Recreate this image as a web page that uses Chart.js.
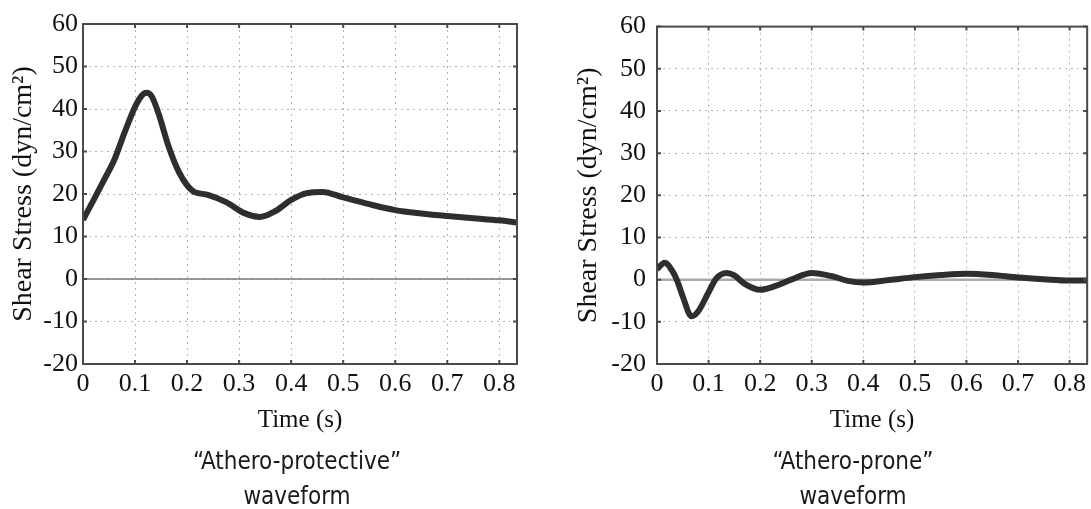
<!DOCTYPE html>
<html>
<head>
<meta charset="utf-8">
<script src="https://cdn.jsdelivr.net/npm/chart.js"></script>
<style>
  html, body { margin: 0; padding: 0; background: #fff; overflow: hidden; }
  .panel { position: absolute; top: 0; }
  .caption {
    position: absolute;
    width: 300px;
    text-align: center;
    font-family: "Liberation Sans Narrow", "DejaVu Sans Condensed", "Liberation Sans", sans-serif;
    font-size: 24px;
    color: #1a1a1a;
    line-height: 35px;
  }
</style>
</head>
<body>

<div class="panel" style="left:0px"><canvas id="leftChart" width="530" height="509"></canvas></div>
<div class="panel" style="left:560px"><canvas id="rightChart" width="531" height="509"></canvas></div>

<div class="caption" style="left:147px; top:444px">“Athero-protective”<br>waveform</div>
<div class="caption" style="left:703px; top:444px">“Athero-prone”<br>waveform</div>

<script>
// ─────────────────────────────────────────────
// DATA
// ─────────────────────────────────────────────
const protectiveTime   = [0, 0.02, 0.04, 0.06, 0.08, 0.1, 0.112, 0.122, 0.132, 0.145, 0.165, 0.185, 0.21, 0.24, 0.275, 0.31, 0.34, 0.37, 0.4, 0.43, 0.46, 0.5, 0.55, 0.6, 0.65, 0.7, 0.75, 0.8, 0.834];
const protectiveStress = [13.9, 18.5, 23.2, 28, 34.5, 40.5, 43, 43.8, 43, 39, 31, 25, 20.8, 19.8, 18.1, 15.5, 14.6, 16.0, 18.6, 20.2, 20.5, 19.2, 17.6, 16.2, 15.4, 14.8, 14.3, 13.8, 13.3];

const proneTime   = [0, 0.015, 0.03, 0.04, 0.05, 0.067, 0.08, 0.1, 0.115, 0.135, 0.15, 0.17, 0.2, 0.23, 0.26, 0.3, 0.34, 0.37, 0.4, 0.45, 0.5, 0.55, 0.6, 0.65, 0.7, 0.75, 0.8, 0.834];
const proneStress = [2.5, 4, 2, -0.5, -4, -8.7, -7.5, -3, 0.3, 1.6, 1, -1, -2.4, -1.5, 0, 1.6, 0.8, -0.3, -0.7, -0.1, 0.6, 1.1, 1.4, 1.1, 0.5, 0.1, -0.2, -0.2];

const xTickValues = [0, 0.1, 0.2, 0.3, 0.4, 0.5, 0.6, 0.7, 0.8];
const yTickValues = [-20, -10, 0, 10, 20, 30, 40, 50, 60];
const xMax = 0.834;

const yTitle = 'Shear Stress (dyn/cm²)';
const xTitle = 'Time (s)';

// ─────────────────────────────────────────────
// FRAME + ZERO LINE (MATLAB style box)
// ─────────────────────────────────────────────
const boxPlugin = {
  id: 'box',
  beforeDatasetsDraw(chart, args, opts) {
    const { ctx, chartArea: a, scales } = chart;
    const y0 = scales.y.getPixelForValue(0);
    ctx.save();
    ctx.strokeStyle = opts.zeroColor;
    ctx.lineWidth = opts.zeroWidth;
    ctx.beginPath();
    ctx.moveTo(a.left, y0);
    ctx.lineTo(a.right, y0);
    ctx.stroke();
    ctx.restore();
  },
  afterDraw(chart) {
    const { ctx, chartArea: a, scales } = chart;
    ctx.save();
    ctx.strokeStyle = '#4a4a4a';
    ctx.lineWidth = 2;
    ctx.beginPath();
    xTickValues.forEach(v => {
      const px = scales.x.getPixelForValue(v);
      ctx.moveTo(px, a.bottom); ctx.lineTo(px, a.bottom - 4);
      ctx.moveTo(px, a.top); ctx.lineTo(px, a.top + 4);
    });
    yTickValues.forEach(v => {
      const py = scales.y.getPixelForValue(v);
      ctx.moveTo(a.left, py); ctx.lineTo(a.left + 4, py);
      ctx.moveTo(a.right, py); ctx.lineTo(a.right - 4, py);
    });
    ctx.stroke();
    ctx.strokeRect(a.left, a.top, a.right - a.left, a.bottom - a.top);
    ctx.restore();
  }
};

function makeChart(id, xs, ys, cfg) {
  const points = xs.map((x, i) => ({ x: x, y: ys[i] }));
  return new Chart(document.getElementById(id), {
    type: 'line',
    data: {
      datasets: [{
        data: points,
        borderColor: '#2e2e2e',
        borderWidth: 6,
        pointRadius: 0,
        cubicInterpolationMode: 'monotone',
        fill: false
      }]
    },
    plugins: [boxPlugin],
    options: {
      responsive: false,
      animation: false,
      events: [],
      layout: { padding: { left: 0, top: 24, right: cfg.rightPad, bottom: 65 } },
      plugins: {
        legend: { display: false },
        tooltip: { enabled: false },
        box: { zeroColor: cfg.zeroColor, zeroWidth: cfg.zeroWidth }
      },
      scales: {
        x: {
          type: 'linear',
          min: 0,
          max: xMax,
          afterBuildTicks: s => { s.ticks = xTickValues.map(v => ({ value: v })); },
          afterFit: s => { s.height = 80; },
          grid: { color: '#b3b3b3', lineWidth: 1, drawTicks: false },
          border: { display: false, dash: [2, 4] },
          ticks: {
            padding: 5,
            maxRotation: 0,
            color: '#111',
            font: { family: '"Liberation Serif", serif', size: 26 },
            callback: v => String(v)
          },
          title: {
            display: true,
            text: xTitle,
            color: '#111',
            font: { family: '"Liberation Serif", serif', size: 25 },
            padding: { top: 0, bottom: 9 }
          }
        },
        y: {
          min: -20,
          max: 60,
          afterBuildTicks: s => { s.ticks = yTickValues.map(v => ({ value: v })); },
          afterFit: s => { s.width = cfg.yWidth; },
          grid: { color: '#b3b3b3', lineWidth: 1, drawTicks: false },
          border: { display: false, dash: [2, 4] },
          ticks: {
            padding: cfg.yTickPad,
            color: '#111',
            font: { family: '"Liberation Serif", serif', size: 26 },
            callback: v => String(v)
          },
          title: {
            display: true,
            text: yTitle,
            color: '#111',
            font: { family: '"Liberation Serif", serif', size: 28 },
            padding: { top: cfg.yTitlePad, bottom: 0 }
          }
        }
      }
    }
  });
}

makeChart('leftChart', protectiveTime, protectiveStress, {
  rightPad: 13, yWidth: 83, yTickPad: 5, yTitlePad: 7, zeroColor: '#777', zeroWidth: 1.5
});
makeChart('rightChart', proneTime, proneStress, {
  rightPad: 3, yWidth: 97, yTickPad: 11, yTitlePad: 12, zeroColor: '#aaa', zeroWidth: 2.5
});
</script>
</body>
</html>
